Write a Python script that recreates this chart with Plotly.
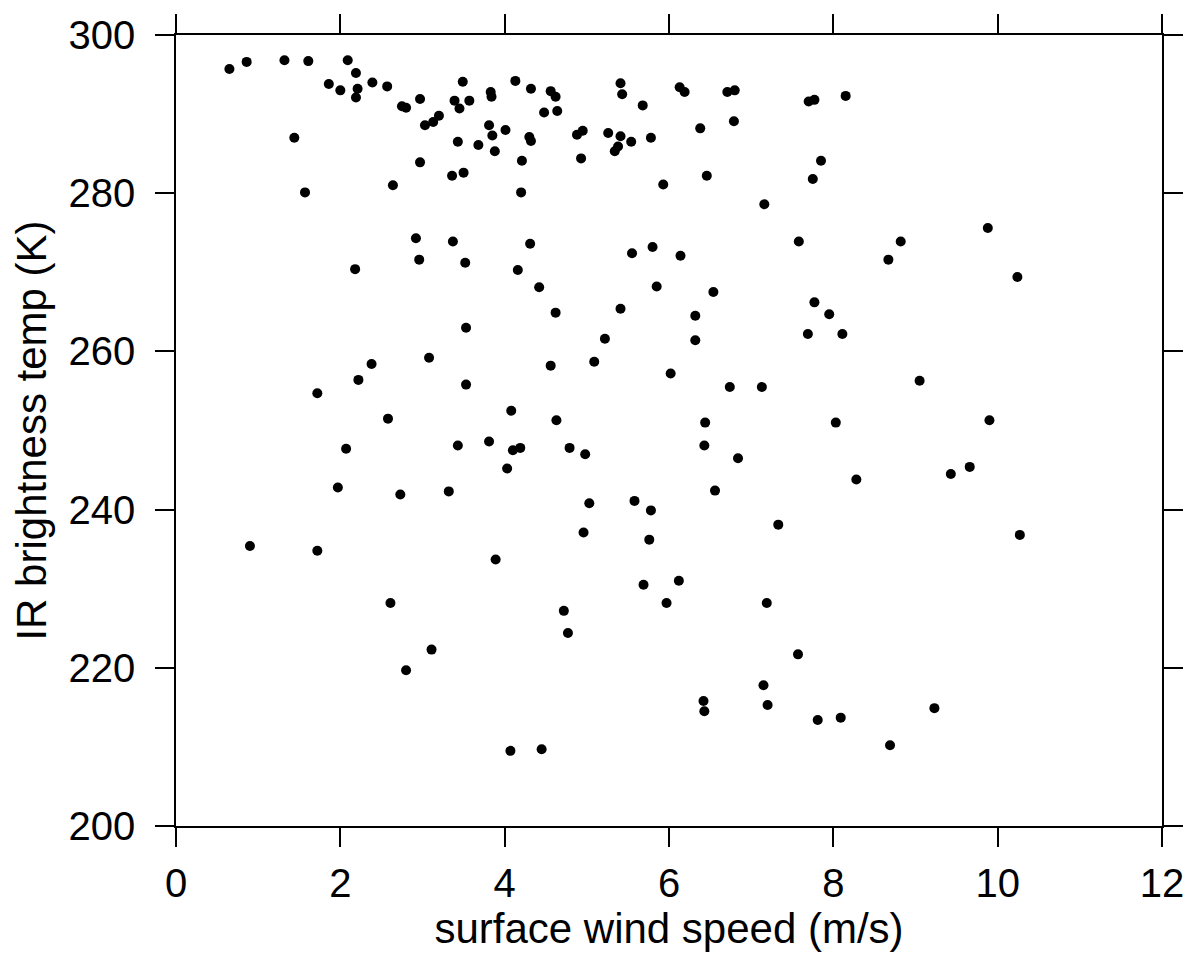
import plotly.graph_objects as go

# surface wind speed (m/s)
wind_speed = [
    0.65, 0.86, 1.32, 1.61, 2.09, 2.19, 1.86, 2.00, 2.21, 2.19, 2.39, 2.57, 2.75, 2.80, 2.97,
    3.03, 3.13, 3.20, 3.39, 3.45, 3.49, 3.57, 3.83, 3.84, 3.81, 3.85, 3.88, 4.01, 4.13, 4.32,
    4.56, 4.62, 4.48, 4.64, 4.30, 4.32, 3.68, 3.43, 4.21, 4.88, 4.95, 4.93, 5.26, 5.41, 5.54,
    5.38, 5.34, 5.41, 5.43, 5.68, 5.78, 5.93, 1.44, 1.57, 2.64, 2.97, 3.36, 3.50, 4.20,
    6.13, 6.19, 6.71, 6.80, 6.38, 6.79, 6.46, 7.70, 7.77, 8.15, 7.85, 7.75, 7.16,
    2.18, 2.92, 2.96, 3.37, 3.52, 4.31, 4.16, 4.42, 4.62, 5.55, 5.80, 5.85, 5.41, 5.22, 3.53,
    3.08, 2.38, 2.22, 1.72, 3.53, 4.56, 5.09, 6.02,
    6.14, 6.54, 6.32, 6.32, 6.74, 7.13, 7.58, 8.82, 8.67, 9.88, 10.24, 7.77, 7.95, 7.69, 8.11, 9.05,
    2.58, 2.07, 1.97, 0.90, 1.72, 3.43, 2.73, 3.32, 3.81, 4.08, 4.10, 4.19, 4.03, 4.63, 4.79,
    4.98, 5.03, 5.58, 5.78, 4.96, 5.76, 3.89, 5.69,
    6.44, 6.43, 6.84, 6.56, 6.12, 7.33, 8.03, 9.90, 9.43, 9.66, 8.28, 10.27,
    2.61, 3.11, 2.80, 4.72, 4.77, 4.07, 4.45, 5.97,
    7.19, 7.57, 7.15, 6.42, 6.43, 7.20, 7.81, 8.09, 9.23, 8.69,
]

# IR brightness temperature (K)
brightness_temp = [
    295.7, 296.6, 296.8, 296.7, 296.8, 295.2, 293.8, 293.0, 293.2, 292.1, 294.0, 293.5, 291.0, 290.8, 291.9,
    288.6, 289.0, 289.8, 291.7, 290.7, 294.1, 291.7, 292.8, 292.2, 288.6, 287.3, 285.3, 288.0, 294.2, 293.2,
    292.9, 292.2, 290.2, 290.4, 287.1, 286.6, 286.1, 286.5, 284.1, 287.4, 287.9, 284.4, 287.6, 287.2, 286.5,
    285.9, 285.3, 293.9, 292.5, 291.1, 287.0, 281.1, 287.0, 280.1, 281.0, 283.9, 282.2, 282.6, 280.1,
    293.4, 292.8, 292.8, 293.0, 288.2, 289.1, 282.2, 291.6, 291.8, 292.3, 284.1, 281.8, 278.6,
    270.4, 274.3, 271.6, 273.9, 271.2, 273.6, 270.3, 268.1, 264.9, 272.4, 273.2, 268.2, 265.4, 261.6, 263.0,
    259.2, 258.4, 256.4, 254.7, 255.8, 258.2, 258.7, 257.2,
    272.1, 267.5, 264.5, 261.4, 255.5, 255.5, 273.9, 273.9, 271.6, 275.6, 269.4, 266.2, 264.7, 262.2, 262.2, 256.3,
    251.5, 247.7, 242.8, 235.4, 234.8, 248.1, 241.9, 242.3, 248.6, 252.5, 247.5, 247.8, 245.2, 251.3, 247.8,
    247.0, 240.8, 241.1, 239.9, 237.1, 236.2, 233.7, 230.5,
    251.0, 248.1, 246.5, 242.4, 231.0, 238.1, 251.0, 251.3, 244.5, 245.4, 243.8, 236.8,
    228.2, 222.3, 219.7, 227.2, 224.4, 209.5, 209.7, 228.2,
    228.2, 221.7, 217.8, 215.8, 214.5, 215.3, 213.4, 213.7, 214.9, 210.2,
]

x_ticks = [0, 2, 4, 6, 8, 10, 12]
y_ticks = [200, 220, 240, 260, 280, 300]

FONT = "Liberation Sans, Arial, Helvetica, sans-serif"

fig = go.Figure(
    go.Scatter(
        x=wind_speed,
        y=brightness_temp,
        mode="markers",
        marker=dict(color="black", size=10, line=dict(width=0)),
        showlegend=False,
    )
)

axis_common = dict(
    showgrid=False,
    zeroline=False,
    showline=True,
    linecolor="black",
    linewidth=1.5,
    mirror="ticks",
    ticks="outside",
    ticklen=19,
    tickwidth=1.5,
    tickcolor="black",
    tickfont=dict(family=FONT, size=40, color="black"),
    automargin=False,
)

fig.update_xaxes(
    range=[0, 12],
    tickvals=x_ticks,
    ticktext=[str(v) for v in x_ticks],
    ticklabelstandoff=2,
    title=dict(text="surface wind speed (m/s)", font=dict(family=FONT, size=42, color="black"), standoff=2),
    **axis_common,
)
fig.update_yaxes(
    range=[200, 300],
    tickvals=y_ticks,
    ticktext=[str(v) for v in y_ticks],
    ticklabelstandoff=12,
    title=dict(text="IR brightness temp (K)", font=dict(family=FONT, size=42, color="black"), standoff=9),
    **axis_common,
)

fig.update_layout(
    width=1187,
    height=956,
    margin=dict(l=168, r=33, t=27, b=138, pad=0),
    paper_bgcolor="white",
    plot_bgcolor="white",
    font=dict(family=FONT, color="black"),
)

fig.write_html("out.html")
